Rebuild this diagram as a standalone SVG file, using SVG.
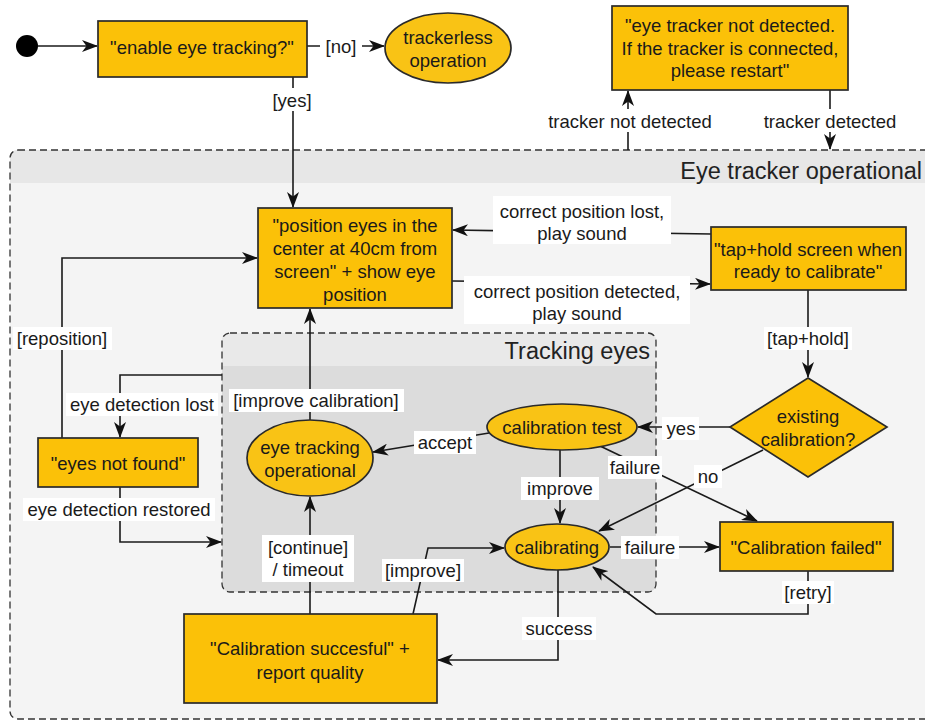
<svg xmlns="http://www.w3.org/2000/svg" width="925" height="725" viewBox="0 0 925 725">
  <defs>
    <marker id="arr" viewBox="0 0 16 12" refX="15" refY="6" markerWidth="16" markerHeight="12" markerUnits="userSpaceOnUse" orient="auto">
      <path d="M0,0 L16,6 L0,12 L4.5,6 z" fill="#111"/>
    </marker>
    <style>
      text { font-family: "Liberation Sans", Arial, sans-serif; font-size: 18.5px; fill: #1a1a1a; text-anchor: middle; dominant-baseline: central; }
      .title { font-size: 23.5px; text-anchor: end; fill: #222; }
      .box { fill: #FBC108; stroke: #2a2a2a; stroke-width: 1.7; }
      .ell { fill: #F9C315; stroke: #2a2a2a; stroke-width: 1.7; }
      .edge { fill: none; stroke: #1a1a1a; stroke-width: 1.6; marker-end: url(#arr); }
      .lbl { fill: #ffffff; }
      .grp { stroke: #333; stroke-width: 1.3; stroke-dasharray: 7 4; }
    </style>
  </defs>
  <rect width="925" height="725" fill="#ffffff"/>

  <!-- outer state: Eye tracker operational -->
  <g id="eye-tracker-operational">
    <rect x="10" y="150" width="940" height="569" rx="8" fill="#f4f4f4"/>
    <path d="M10,183 V158 Q10,150 18,150 H950 V183 Z" fill="#e7e7e7"/>
    <rect x="10" y="150" width="940" height="569" rx="8" fill="none" class="grp"/>
    <text class="title" x="922" y="171">Eye tracker operational</text>
  </g>

  <!-- inner state: Tracking eyes -->
  <g id="tracking-eyes">
    <rect x="222" y="333" width="434" height="259" rx="8" fill="#dcdcdc"/>
    <path d="M222,366 V341 Q222,333 230,333 H648 Q656,333 656,341 V366 Z" fill="#e9e9e9"/>
    <rect x="222" y="333" width="434" height="259" rx="8" fill="none" class="grp"/>
    <text class="title" x="650" y="351">Tracking eyes</text>
  </g>

  <!-- connectors -->
  <g id="connectors">
    <path class="edge" d="M38,46 H97"/>
    <path class="edge" d="M307,46 H384"/>
    <path class="edge" d="M293,77 V207"/>
    <path class="edge" d="M628,150 V91"/>
    <path class="edge" d="M830,90 V149"/>
    <path class="edge" d="M711,234 L453,230"/>
    <path class="edge" d="M452,281 L710,284"/>
    <path class="edge" d="M808,290 V377"/>
    <path class="edge" d="M730,427 H638"/>
    <path class="edge" d="M763,450 L599,531"/>
    <path class="edge" d="M600,446 L757,521"/>
    <path class="edge" d="M560,450 V523"/>
    <path class="edge" d="M489,433 L373,452"/>
    <path class="edge" d="M310,420 V309"/>
    <path class="edge" d="M610,547 H719"/>
    <path class="edge" d="M808,571 V614 H656 L593,567"/>
    <path class="edge" d="M558,570 V660 H438"/>
    <path class="edge" d="M310,614 V497"/>
    <path class="edge" d="M413,614 L428,548 H504"/>
    <path class="edge" d="M222,375 H120 V437"/>
    <path class="edge" d="M120,487 V542 H221"/>
    <path class="edge" d="M62,438 V258 H257"/>

    <!-- connector labels -->
    <rect class="lbl" x="320" y="35" width="42" height="23"/>
    <text x="341" y="46">[no]</text>
    <rect class="lbl" x="269" y="88" width="46" height="23"/>
    <text x="292" y="100">[yes]</text>
    <rect class="lbl" x="545" y="109" width="170" height="23"/>
    <text x="630" y="121">tracker not detected</text>
    <rect class="lbl" x="760" y="109" width="140" height="23"/>
    <text x="830" y="121">tracker detected</text>
    <rect class="lbl" x="493" y="196" width="178" height="48"/>
    <text x="582" y="211">correct position lost,</text>
    <text x="582" y="233">play sound</text>
    <rect class="lbl" x="464" y="276" width="226" height="48"/>
    <text x="577" y="291">correct position detected,</text>
    <text x="577" y="313">play sound</text>
    <rect class="lbl" x="764" y="327" width="88" height="23"/>
    <text x="808" y="338">[tap+hold]</text>
    <rect class="lbl" x="662" y="417" width="37" height="23"/>
    <text x="681" y="428">yes</text>
    <rect class="lbl" x="694" y="465" width="28" height="23"/>
    <text x="708" y="476">no</text>
    <rect class="lbl" x="608" y="456" width="54" height="23"/>
    <text x="635" y="467">failure</text>
    <rect class="lbl" x="521" y="477" width="78" height="23"/>
    <text x="560" y="488">improve</text>
    <rect class="lbl" x="414" y="431" width="62" height="23"/>
    <text x="445" y="442">accept</text>
    <rect class="lbl" x="229" y="389" width="175" height="23"/>
    <text x="316" y="400">[improve calibration]</text>
    <rect class="lbl" x="621" y="536" width="58" height="23"/>
    <text x="650" y="547">failure</text>
    <rect class="lbl" x="782" y="581" width="52" height="23"/>
    <text x="808" y="592">[retry]</text>
    <rect class="lbl" x="522" y="617" width="74" height="23"/>
    <text x="559" y="628">success</text>
    <rect class="lbl" x="262" y="535" width="92" height="47"/>
    <text x="308" y="547">[continue]</text>
    <text x="308" y="569">/ timeout</text>
    <rect class="lbl" x="382" y="559" width="82" height="23"/>
    <text x="423" y="570">[improve]</text>
    <rect class="lbl" x="66" y="393" width="152" height="23"/>
    <text x="142" y="404">eye detection lost</text>
    <rect class="lbl" x="23" y="498" width="192" height="23"/>
    <text x="119" y="509">eye detection restored</text>
    <rect class="lbl" x="13" y="327" width="99" height="23"/>
    <text x="62" y="338">[reposition]</text>
  </g>

  <!-- nodes -->
  <g id="start">
    <circle cx="27" cy="46" r="11" fill="#000"/>
  </g>
  <g id="enable-eye-tracking">
    <rect class="box" x="98" y="21" width="209" height="56"/>
    <text x="202" y="47">"enable eye tracking?"</text>
  </g>
  <g id="trackerless-operation">
    <ellipse class="ell" cx="448" cy="48" rx="63" ry="35"/>
    <text x="448" y="37">trackerless</text>
    <text x="448" y="60">operation</text>
  </g>
  <g id="tracker-not-detected">
    <rect class="box" x="612" y="6" width="236" height="84"/>
    <text x="730" y="25">"eye tracker not detected.</text>
    <text x="730" y="48">If the tracker is connected,</text>
    <text x="730" y="70">please restart"</text>
  </g>
  <g id="position-eyes">
    <rect class="box" x="258" y="208" width="194" height="100"/>
    <text x="355" y="225">"position eyes in the</text>
    <text x="355" y="248">center at 40cm from</text>
    <text x="355" y="271">screen" + show eye</text>
    <text x="355" y="294">position</text>
  </g>
  <g id="tap-hold">
    <rect class="box" x="711" y="227" width="195" height="63"/>
    <text x="808" y="249">"tap+hold screen when</text>
    <text x="808" y="271">ready to calibrate"</text>
  </g>
  <g id="existing-calibration">
    <polygon class="box" points="808,378 887,427 808,477 730,427"/>
    <text x="808" y="416">existing</text>
    <text x="808" y="439">calibration?</text>
  </g>
  <g id="calibration-test">
    <ellipse class="ell" cx="562" cy="427" rx="75" ry="23"/>
    <text x="562" y="427">calibration test</text>
  </g>
  <g id="eye-tracking-operational">
    <ellipse class="ell" cx="310" cy="458" rx="63" ry="38"/>
    <text x="310" y="447">eye tracking</text>
    <text x="310" y="470">operational</text>
  </g>
  <g id="calibrating">
    <ellipse class="ell" cx="557" cy="547" rx="52" ry="23"/>
    <text x="557" y="547">calibrating</text>
  </g>
  <g id="calibration-failed">
    <rect class="box" x="720" y="522" width="173" height="49"/>
    <text x="806" y="547">"Calibration failed"</text>
  </g>
  <g id="eyes-not-found">
    <rect class="box" x="38" y="438" width="160" height="49"/>
    <text x="118" y="463">"eyes not found"</text>
  </g>
  <g id="calibration-successful">
    <rect class="box" x="184" y="614" width="253" height="89"/>
    <text x="310" y="648">"Calibration succesful" +</text>
    <text x="310" y="672">report quality</text>
  </g>
</svg>
